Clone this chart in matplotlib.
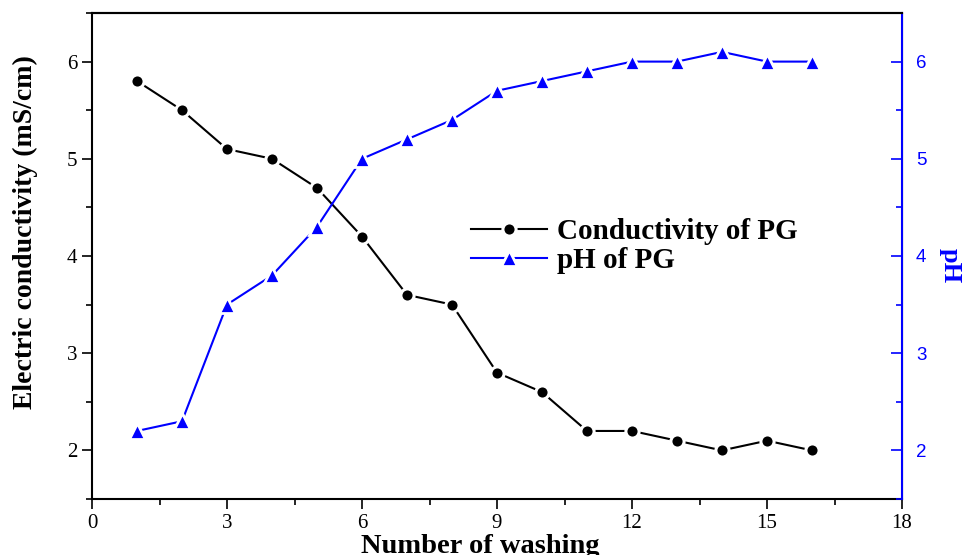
import matplotlib
matplotlib.use("Agg")
import matplotlib.pyplot as plt
from matplotlib.ticker import MultipleLocator

washing = [1, 2, 3, 4, 5, 6, 7, 8, 9, 10, 11, 12, 13, 14, 15, 16]
conductivity = [5.8, 5.5, 5.1, 5.0, 4.7, 4.2, 3.6, 3.5, 2.8, 2.6, 2.2, 2.2, 2.1, 2.0, 2.1, 2.0]
ph = [2.2, 2.3, 3.5, 3.8, 4.3, 5.0, 5.2, 5.4, 5.7, 5.8, 5.9, 6.0, 6.0, 6.1, 6.0, 6.0]

serif = "Liberation Serif"
sans = "Liberation Sans"

fig = plt.figure(figsize=(9.66, 5.55), dpi=100)
ax = fig.add_axes([92/966, 56/555, 810/966, 486/555])
ax2 = ax.twinx()

l1, = ax.plot(washing, conductivity, color="black", marker="o", markersize=9.5,
              markeredgecolor="white", markeredgewidth=2.2, linewidth=1.5,
              label="Conductivity of PG")
l2, = ax2.plot(washing, ph, color="blue", marker="^", markersize=12,
               markeredgecolor="white", markeredgewidth=2.0, linewidth=1.5,
               label="pH of PG")

ax.set_xlim(0, 18)
ax.set_ylim(1.5, 6.5)
ax2.set_ylim(1.5, 6.5)

ax.xaxis.set_major_locator(MultipleLocator(3))
ax.xaxis.set_minor_locator(MultipleLocator(1.5))
ax.yaxis.set_major_locator(MultipleLocator(1))
ax.yaxis.set_minor_locator(MultipleLocator(0.5))
ax2.yaxis.set_major_locator(MultipleLocator(1))
ax2.yaxis.set_minor_locator(MultipleLocator(0.5))

ax.tick_params(axis="both", which="major", direction="out", length=7, width=1.2, labelsize=15)
ax.tick_params(axis="both", which="minor", direction="out", length=4, width=1.2)
ax.tick_params(axis="x", which="major", pad=4)
ax2.tick_params(axis="y", which="major", direction="in", length=8, width=1.2,
                colors="blue", labelsize=13.5, pad=10)
ax2.tick_params(axis="y", which="minor", direction="in", length=4, width=1.2, colors="blue")

for lab in ax.get_xticklabels() + ax.get_yticklabels():
    lab.set_fontfamily(serif)
for lab in ax2.get_yticklabels():
    lab.set_fontfamily(sans)

for s in ["left", "bottom", "top"]:
    ax.spines[s].set_linewidth(1.5)
ax2.spines["right"].set_color("blue")
ax2.spines["right"].set_linewidth(1.5)
ax2.spines["left"].set_visible(False)
ax2.spines["top"].set_linewidth(1.5)
ax2.spines["bottom"].set_visible(False)

ax.set_xlabel("Number of washing", fontfamily=serif, fontweight="bold", fontsize=20.5)
ax.xaxis.set_label_coords(0.479, -0.071)
ax.set_ylabel("Electric conductivity (mS/cm)", fontfamily=serif, fontweight="bold", fontsize=20)
ax.yaxis.set_label_coords(-0.067, 0.549)
ax2.set_ylabel("pH", fontfamily=serif, fontweight="bold", fontsize=19, color="blue",
               rotation=270)
ax2.yaxis.set_label_coords(1.059, 0.481)
ax2.yaxis.label.set_verticalalignment("center")
ax2.yaxis.label.set_horizontalalignment("center")

leg = ax2.legend(handles=[l1, l2], loc="center", bbox_to_anchor=(0.67, 0.52),
                 frameon=False, handlelength=2.6, numpoints=1,
                 prop={"family": serif, "weight": "bold", "size": 21},
                 labelspacing=0.08, handletextpad=0.35, borderpad=0.2)

fig.savefig("out.png", dpi=100)
